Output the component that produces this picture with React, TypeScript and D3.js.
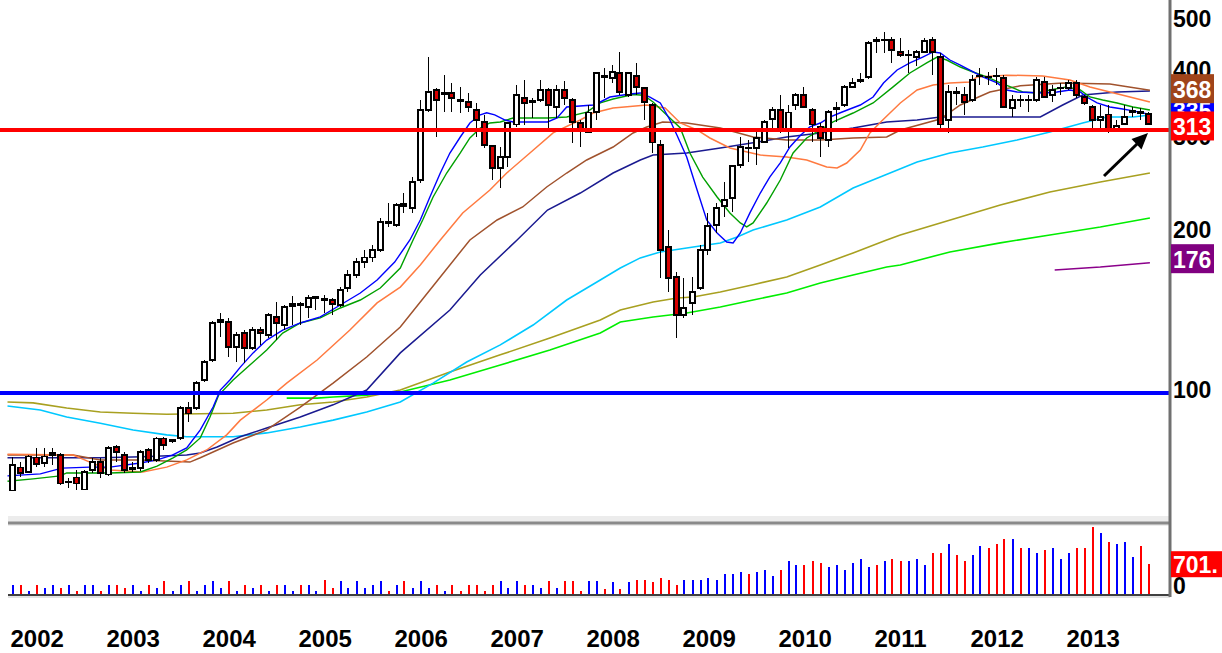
import React from 'react';
import * as d3 from 'd3';

// Monthly candles, Jan 2002 (index 0) .. Nov 2013 (index 142)
const years = [2002, 2003, 2004, 2005, 2006, 2007, 2008, 2009, 2010, 2011, 2012, 2013];

const opens = [65.6,72.5,71.0,75.5,73.8,76.4,76.4,67.9,69.2,65.9,71.6,74.1,70.1,79.1,76.4,72.2,72.2,78.1,74.8,82.0,81.2,82.3,93.7,93.7,105.8,115.4,136.1,136.1,122.1,129.7,121.6,131.4,128.6,139.1,134.3,145.9,146.5,145.2,151.7,149.7,149.7,146.5,157.7,166.9,176.5,179.7,186.0,209.1,207.2,225.1,223.1,251.9,341.3,372.3,365.9,367.5,356.5,353.4,341.3,324.0,292.1,265.4,278.4,320.1,359.6,355.0,356.5,372.3,345.8,372.3,356.5,322.6,310.3,338.4,394.0,392.2,400.8,364.3,395.7,375.6,348.8,293.3,188.4,165.4,140.3,147.8,157.7,186.0,207.2,225.1,233.0,268.9,289.5,289.5,297.1,328.2,341.3,313.0,348.8,364.3,341.3,317.3,299.7,342.8,348.8,377.3,387.1,394.0,460.4,462.4,462.4,439.0,433.3,429.5,439.0,462.4,429.5,326.8,367.5,364.3,356.5,395.7,394.0,395.7,392.2,344.3,356.5,356.5,356.5,385.4,364.3,375.6,375.6,383.8,361.1,345.8,326.8,334.3,313.0,321.3,338.4,336.9,335.4];
const highs = [75.8,74.1,76.4,78.8,78.8,78.8,77.1,69.2,71.6,71.6,75.5,75.5,79.5,79.8,77.4,74.1,78.1,78.8,82.7,82.7,82.0,94.5,96.2,105.3,115.4,136.6,141.5,138.5,130.3,131.4,133.1,133.1,141.5,148.4,146.5,152.3,148.4,153.0,152.3,153.0,151.0,158.3,170.5,179.7,186.0,190.0,213.7,228.0,228.0,238.1,255.3,356.5,429.5,375.6,397.0,383.8,377.3,367.5,351.9,334.3,292.1,290.7,324.0,380.5,388.8,359.6,388.8,375.6,380.5,387.1,359.6,326.8,348.8,402.4,409.6,414.9,439.0,402.4,418.6,377.3,351.9,299.7,202.8,169.0,164.7,165.4,190.0,218.4,228.0,249.7,267.8,303.6,299.7,313.0,326.8,346.2,364.3,348.8,367.5,377.3,344.3,322.6,341.3,353.4,380.5,392.2,400.8,460.4,468.5,478.7,468.5,466.4,442.8,442.8,466.4,468.5,437.1,380.5,377.3,377.3,397.0,409.6,402.4,409.6,397.0,364.3,364.3,364.3,394.0,394.0,380.5,383.8,388.8,388.8,364.3,348.8,348.8,348.8,326.8,348.8,346.2,344.3,338.4];
const lows = [65.3,69.5,70.7,72.5,72.5,73.2,67.0,66.2,65.6,65.6,70.7,69.2,69.8,74.1,70.7,71.0,71.3,73.8,74.1,78.1,80.5,81.6,88.2,92.9,104.9,114.4,127.4,116.9,114.4,113.9,120.5,123.2,126.9,125.8,131.4,134.3,134.3,138.5,143.3,141.5,140.3,145.2,155.0,164.7,172.0,176.5,184.4,205.3,205.3,218.4,218.4,248.6,338.4,303.6,338.4,338.4,336.9,338.4,303.6,289.5,251.9,243.3,266.6,317.3,320.1,329.7,353.4,313.0,329.7,348.8,296.1,290.7,308.9,326.8,359.6,383.8,364.3,361.1,364.3,326.8,283.2,164.7,155.0,126.9,138.5,140.3,156.3,182.0,200.2,214.6,219.3,265.4,272.4,268.9,296.1,315.7,308.9,289.5,341.3,344.3,297.1,278.4,290.7,324.0,345.8,375.6,383.8,390.5,437.1,437.1,418.6,429.5,400.8,413.1,437.1,397.0,315.7,308.9,348.8,334.3,353.4,380.5,380.5,380.5,344.3,331.4,345.8,338.4,353.4,359.6,353.4,364.3,372.3,359.6,348.8,313.0,313.0,308.9,310.3,320.1,331.0,326.8,320.1];
const closes = [73.2,70.7,75.8,73.5,75.8,77.1,67.6,68.2,67.6,71.0,74.1,70.7,78.8,77.4,71.6,71.9,77.4,74.8,82.0,79.8,81.6,93.7,91.6,104.4,114.4,135.5,137.3,122.1,128.6,121.6,131.4,129.7,140.3,135.5,145.2,147.1,147.1,151.0,151.5,150.4,147.1,156.3,166.9,176.5,179.7,186.0,210.0,210.0,226.0,227.0,249.7,341.3,369.1,356.5,367.5,359.6,355.0,345.8,326.8,293.3,265.4,278.4,322.6,364.3,351.9,353.4,372.3,348.8,372.3,359.6,324.0,313.0,337.3,400.8,395.7,402.4,369.1,400.8,377.3,353.4,296.1,186.0,164.7,140.3,144.6,155.0,186.0,206.3,223.1,231.0,267.8,290.7,290.2,302.3,324.0,341.3,313.0,337.3,364.3,345.8,320.1,302.3,338.4,344.3,377.3,383.8,388.8,456.5,462.4,463.0,442.8,433.3,434.0,439.0,460.4,439.0,320.1,369.1,369.1,353.4,388.8,397.0,394.5,397.0,345.8,356.5,357.0,357.0,388.8,361.1,372.3,376.0,383.8,364.3,351.9,326.8,331.0,313.0,318.5,331.0,339.8,338.4,321.1];

const volumes = [210,210,60,210,140,210,140,210,60,210,210,60,210,210,140,210,60,210,140,295,60,210,295,60,210,295,140,295,60,210,140,210,60,210,210,60,210,210,60,330,140,295,140,295,140,210,295,60,210,295,140,295,140,210,60,210,60,210,210,60,210,295,140,295,210,210,140,295,140,295,295,60,295,295,127,277,127,277,320,320,277,376,320,209,320,320,320,376,320,461,461,529,461,529,571,421,571,780,672,672,780,721,630,672,571,721,823,630,672,780,823,780,780,823,672,973,973,1175,924,780,924,1133,1074,1175,1283,1283,1074,1074,973,1032,1074,823,973,1074,1074,1575,1426,1222,1175,1222,881,1133,701];
const volumeSide = ('BRBRBBRBRB' + 'BRBRRBBRBR' + 'BBRBBBBRBR' + 'BRBRBBRBBR' + 'RBBBBBBRBR' + 'BBBRBRRRRR' + 'RBBBRBBRBR' + 'RRBB' + 'RBRBRRRRRR' + 'BBBBBBBBRB' + 'BBRBBRRRBB' + 'BBBBRBRRBB' + 'BRRBRRBBRR' + 'RBRBBRBBBR' + 'RRBRBBBRR').split('');

// moving averages: [month index, value]
const maBlue: [number, number][] = [[-0.5,69.8],[3.6,70.4],[6.3,72.2],[9.8,72.5],[12.3,72.5],[16.1,73.8],[18.2,74.8],[20.1,76.4],[21.9,78.8],[23.6,85.2],[25.2,94.1],[26.1,101.3],[27.3,105.8],[28.6,111.9],[30.2,119.0],[31.9,125.8],[33.9,131.4],[36.1,135.5],[38.6,139.1],[41.1,146.5],[43.6,154.3],[45.7,163.3],[47.9,176.5],[49.8,194.2],[51.1,211.8],[52.3,234.0],[53.6,259.7],[54.8,283.2],[56.1,303.6],[57.3,322.6],[58.6,334.3],[59.4,337.3],[60.4,334.3],[61.7,326.8],[62.7,324.0],[67,324.0],[68.2,329.7],[69.4,345.8],[72.7,348.8],[73.6,353.4],[74.8,361.1],[77.3,365.9],[78.6,367.5],[79.8,361.1],[81.1,351.9],[82.3,326.8],[83.2,305.6],[84.4,278.4],[85.7,241.2],[86.9,211.8],[88.2,200.2],[89.4,192.5],[90.2,191.7],[91.1,200.2],[92.3,218.4],[93.6,238.1],[94.8,255.3],[96.1,271.3],[97.3,290.7],[98.6,305.6],[99.8,317.3],[101.1,322.6],[102.3,331.0],[103.6,337.3],[104.8,342.8],[106.1,348.8],[107.7,361.1],[109,383.8],[110.7,406.0],[112.3,418.6],[113.9,429.5],[115.2,439.0],[116.1,437.1],[117.3,424.0],[118.6,414.9],[119.8,406.0],[121.4,394.0],[123.2,383.8],[124.4,372.3],[125.7,369.1],[129,367.5],[130.7,369.1],[132.3,372.3],[133.6,369.1],[134.4,361.1],[135.7,351.9],[137.3,345.8],[138.9,342.8],[140.2,340.0],[142.3,335.0]];
const maGreen: [number, number][] = [[-0.5,68.2],[2.7,68.9],[6.1,69.8],[6.9,70.7],[12.3,70.7],[16.1,71.0],[18.2,72.8],[20.2,75.5],[21.9,78.1],[23.6,82.3],[24.8,90.0],[25.9,99.1],[27.7,105.8],[29.8,112.9],[31.9,120.5],[33.9,129.7],[36.1,135.5],[38.6,138.5],[41.1,144.6],[43.6,149.7],[46.1,157.7],[48.6,172.0],[50.2,194.2],[51.4,211.8],[52.7,234.0],[54.4,259.7],[56.1,283.3],[57.3,302.3],[58.6,315.7],[59.8,322.7],[61.1,324.1],[62.7,329.7],[67,329.7],[69.4,331.1],[71.9,338.3],[73.6,352.0],[75.2,358.0],[77.7,365.0],[79,364.0],[80.2,353.4],[81.9,334.0],[83.6,315.7],[84.8,283.3],[86.4,255.2],[88.2,234.0],[89.8,218.4],[91.1,209.1],[91.9,205.5],[92.7,209.1],[94.4,228.0],[96.1,251.9],[97.7,283.3],[99.4,302.3],[101.1,313.0],[102.7,324.1],[105.2,336.9],[107.7,351.9],[110.2,377.3],[112.3,400.8],[114.4,418.6],[115.7,429.5],[116.9,424.0],[118.6,411.3],[120.2,402.5],[121.9,394.0],[123.6,383.8],[125.2,375.6],[126.4,369.1],[128.2,367.5],[129.8,372.3],[131.9,377.3],[133.6,372.3],[134.8,361.2],[136.4,356.5],[138.2,351.9],[140.2,345.8],[142.3,341.3]];
const maOrange: [number, number][] = [[-0.5,76.7],[7.7,76.4],[9.8,74.1],[12.3,71.6],[16.4,71.0],[19.4,72.5],[21.9,74.8],[24.4,78.1],[26.9,83.4],[28.6,88.9],[31.9,97.0],[34.4,104.4],[38.2,115.4],[42.3,131.4],[45.7,147.8],[48.6,158.3],[51.1,174.3],[53.6,194.2],[56.4,218.4],[59.8,241.2],[61.9,259.7],[64.8,283.3],[67.7,309.0],[71.1,326.8],[72.7,336.9],[75.2,344.3],[79.4,348.8],[81.7,344.3],[83.6,322.7],[85.7,313.0],[87.3,302.3],[89.8,289.5],[93.6,280.7],[96.9,278.4],[99.4,274.8],[101.9,266.6],[103.2,265.4],[104.4,271.2],[106.1,286.9],[107.3,309.0],[108.9,326.8],[111.1,351.9],[113.2,372.3],[115.2,380.5],[117.3,383.8],[119.8,385.4],[120.7,394.0],[124.4,397.0],[128.9,395.7],[132.3,388.8],[134.8,377.3],[137.3,369.1],[139.8,361.2],[142.3,353.4]];
const maBrown: [number, number][] = [[-0.5,76.4],[7.7,76.4],[11.1,74.8],[16.1,74.8],[22.3,74.1],[23.6,75.5],[27.7,80.5],[31.9,85.2],[36.1,94.1],[40.2,104.4],[44.4,116.9],[48.6,133.1],[52.9,160.5],[57.3,194.2],[60.7,211.8],[63.9,224.1],[66.9,244.4],[69.4,259.7],[71.9,274.8],[75.2,290.7],[77.7,309.0],[79.4,317.1],[81.4,324.1],[84.4,322.7],[88.6,315.7],[92.7,303.6],[96.9,299.7],[101.1,299.7],[105.2,302.3],[109.4,303.6],[111.1,313.0],[116.1,328.2],[118.6,348.8],[122.3,369.1],[126.1,379.0],[131.4,383.8],[137.3,382.2],[142.3,372.0]];
const maNavy: [number, number][] = [[-0.5,75.5],[5.7,75.5],[11.1,75.5],[16.4,75.8],[21.9,76.4],[23.6,77.1],[25.7,79.1],[28.6,82.7],[31.9,85.9],[36.1,90.1],[40.2,95.0],[44.4,101.3],[48.6,119.0],[54.8,143.3],[58.6,166.9],[63.2,194.2],[67,221.2],[71.1,238.1],[75.2,259.7],[78.6,274.8],[80.2,280.7],[84.4,283.3],[88.6,289.5],[92.7,296.1],[96.9,303.6],[101.1,309.0],[105.2,315.7],[109.4,324.1],[113.2,326.8],[116.1,331.1],[128.6,331.1],[131.4,348.8],[133.9,364.3],[138.2,369.1],[142.3,370.7]];
const maCyan: [number, number][] = [[-0.5,94.5],[3.6,92.9],[6.9,90.1],[11.1,87.7],[15.2,85.2],[19.4,83.4],[21.9,82.7],[27.7,82.7],[31.9,84.1],[36.1,86.3],[40.2,88.9],[44.4,92.1],[48.6,96.2],[52.7,104.4],[56.9,114.4],[61.1,123.2],[65.2,134.3],[69.4,149.7],[73.6,163.3],[76.1,172.0],[78.6,179.7],[81.1,184.4],[84.4,187.6],[86.9,190.0],[88.6,191.7],[90.7,196.7],[92.7,202.8],[96.9,211.8],[101.1,224.1],[105.2,243.3],[109.2,257.5],[113.2,272.4],[117.3,283.3],[121.4,290.7],[125.7,299.7],[129.8,310.3],[133.9,322.7],[136.9,331.1],[140.2,331.1],[142.3,334.0]];
const maOlive: [number, number][] = [[-0.5,96.2],[2.7,95.8],[6.9,93.7],[11.1,92.1],[15.2,91.6],[19.4,91.2],[27.7,91.6],[31.9,92.9],[36.1,95.0],[40.2,96.2],[44.4,98.3],[48.6,101.3],[54.8,109.5],[61.1,118.0],[67.3,126.9],[73.6,137.3],[76.1,143.3],[80.2,148.4],[83.2,151.0],[85.2,151.7],[88.6,155.0],[92.7,160.0],[96.9,165.4],[101.1,174.3],[105.2,183.6],[109.4,194.2],[111.1,198.5],[123.6,226.0],[129.8,239.1],[136.1,249.7],[142.3,259.7]];
const maLime: [number, number][] = [[34.4,97.8],[38.2,97.8],[40.2,98.3],[44.4,99.1],[48.6,100.4],[54.8,105.8],[61.1,112.9],[67.3,120.5],[73.6,129.7],[76.1,136.1],[80.2,139.1],[84.4,141.5],[88.6,145.2],[92.7,149.7],[96.9,154.3],[101.1,161.1],[105.2,166.9],[109.4,172.7],[111.1,174.3],[117.3,184.4],[123.6,191.8],[129.8,198.5],[136.1,205.5],[142.3,213.7]];
const maPurple: [number, number][] = [[130.4,170.5],[136.1,172.7],[142.3,176.0]];

const priceTicks = [500, 400, 300, 200, 100];
const supportLevel = 313;
const baseLevel = 100;
const lastVolume = 701;
const labelBoxes = [
  { value: 335, text: '335', fill: '#0000FF' },
  { value: 368, text: '368', fill: '#A0441A' },
  { value: 313, text: '313', fill: '#FF0000' },
  { value: 176, text: '176', fill: '#800080' },
];

const FONT = "'Liberation Sans', Arial, sans-serif";

export default function App() {
  const n = opens.length;
  const xS = d3.scaleLinear().domain([0, n - 1]).range([11.5, 1147.5]);
  const yS = d3.scaleLog().domain([100, 500]).range([393, 22]);
  const vS = d3.scaleLinear().domain([0, 1600]).range([594, 526]);
  const line = d3.line<[number, number]>().x(d => xS(d[0])).y(d => yS(d[1]));

  const mas = [
    { data: maPurple, color: '#8B008B', w: 1.5 },
    { data: maLime, color: '#00EE00', w: 1.6 },
    { data: maOlive, color: '#A8A020', w: 1.6 },
    { data: maCyan, color: '#00C8FF', w: 1.6 },
    { data: maNavy, color: '#1A1A90', w: 1.5 },
    { data: maBrown, color: '#A0522D', w: 1.5 },
    { data: maOrange, color: '#FF7A40', w: 1.5 },
    { data: maGreen, color: '#00A000', w: 1.4 },
    { data: maBlue, color: '#0000FF', w: 1.4 },
  ];

  const axisX = 1170;

  return (
    <svg width={1222} height={653} style={{ position: 'absolute', left: 0, top: 0 }} fontFamily={FONT}>
      <rect x={0} y={0} width={1222} height={653} fill="#FFFFFF" />

      {/* moving averages */}
      {mas.map((m, k) => (
        <path key={k} d={line(m.data) || ''} fill="none" stroke={m.color} strokeWidth={m.w} />
      ))}

      {/* candles */}
      <g shapeRendering="crispEdges">
        {opens.map((o, i) => {
          const c = closes[i];
          const cx = Math.round(xS(i));
          const top = yS(Math.max(o, c));
          const bot = yS(Math.min(o, c));
          const up = c >= o;
          return (
            <g key={i}>
              <line x1={cx + 0.5} x2={cx + 0.5} y1={yS(highs[i])} y2={yS(lows[i])} stroke="#000" strokeWidth={1.2} />
              <rect x={cx - 2} y={top} width={5} height={Math.max(1, bot - top)} fill={up ? '#FFFFFF' : '#D80000'} stroke="#000" strokeWidth={1.2} />
            </g>
          );
        })}
      </g>

      {/* horizontal levels */}
      <line x1={0} x2={axisX} y1={yS(supportLevel)} y2={yS(supportLevel)} stroke="#FF0000" strokeWidth={4} />
      <line x1={0} x2={axisX} y1={yS(baseLevel)} y2={yS(baseLevel)} stroke="#0000FF" strokeWidth={4} />

      {/* arrow */}
      <g>
        <line x1={1104} y1={176} x2={1137} y2={144} stroke="#000" strokeWidth={3} />
        <polygon points="1148,133 1141.5,149.5 1131.5,139" fill="#000" />
      </g>

      {/* panel separator */}
      <rect x={8} y={516} width={axisX - 8} height={10} fill="#ECECEC" />
      <line x1={8} x2={axisX} y1={523} y2={523} stroke="#8A8A8A" strokeWidth={3} />

      {/* volume */}
      <g shapeRendering="crispEdges">
        {volumes.map((v, i) => {
          const cx = Math.round(xS(i));
          return (
            <rect key={i} x={cx - 0.5} y={vS(v)} width={2} height={vS(0) - vS(v)} fill={volumeSide[i] === 'R' ? '#FF0000' : '#0000FF'} />
          );
        })}
      </g>
      <line x1={8} x2={axisX} y1={595} y2={595} stroke="#404040" strokeWidth={2} />
      <line x1={8} x2={axisX} y1={597} y2={597} stroke="#C8C8C8" strokeWidth={1} />

      {/* right axis */}
      <line x1={axisX} x2={axisX} y1={0} y2={597} stroke="#707070" strokeWidth={3} />
      {priceTicks.map(t => (
        <text key={t} x={1173} y={yS(t) - 3} dominantBaseline="central" fontSize={23} fontWeight="bold" fill="#000">{t}</text>
      ))}
      <text x={1173} y={586} dominantBaseline="central" fontSize={23} fontWeight="bold" fill="#000">0</text>

      {labelBoxes.map(b => {
        const cy = yS(b.value) - 4;
        return (
          <g key={b.text}>
            <rect x={1171} y={cy - 14.5} width={43} height={29} fill={b.fill} />
            <text x={1173} y={cy + 1} dominantBaseline="central" fontSize={23} fontWeight="bold" fill="#FFFFFF">{b.text}</text>
          </g>
        );
      })}
      <rect x={1171} y={vS(lastVolume) - 13} width={51} height={26} fill="#FF0000" />
      <text x={1173} y={vS(lastVolume) + 1} dominantBaseline="central" fontSize={23} fontWeight="bold" fill="#FFFFFF">{lastVolume}.</text>

      {/* year labels */}
      {years.map((yr, k) => (
        <text key={yr} x={xS(k * 12) - 1} y={647} fontSize={24} fontWeight="bold" fill="#000">{yr}</text>
      ))}
    </svg>
  );
}
